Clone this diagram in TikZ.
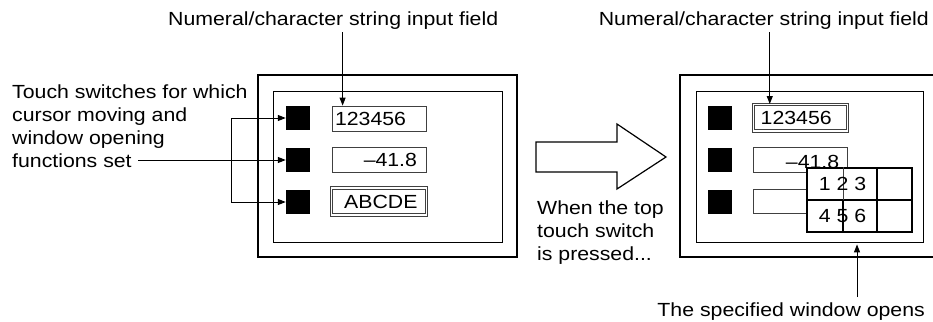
\documentclass[tikz,border=0pt]{standalone}
\usepackage{fontspec}
\setmainfont{Liberation Sans}[FakeStretch=1.12]
\usetikzlibrary{arrows.meta,calc}
\definecolor{edgegray}{HTML}{404040}

\begin{document}
\begin{tikzpicture}[x=1pt,y=-1pt,
  every node/.style={font=\fontsize{19}{22.7}\selectfont},
  frame/.style={draw,line width=2pt,inner sep=0pt,minimum height=182pt},
  panel/.style={draw,line width=0.8pt,inner sep=0pt,minimum width=229pt,minimum height=151pt},
  switch/.style={fill=black,inner sep=0pt,minimum size=24pt},
  field/.style={draw=edgegray,line width=0.8pt,minimum height=25pt,inner ysep=0pt},
  dfield/.style={field,double=white,double distance=1.4pt,line width=0.9pt},
  label/.style={inner sep=2pt,align=left},
  pointer/.style={line width=1pt,-{Triangle[length=8pt,width=6pt]}}]
  \clip (0,0) rectangle (933,321);

  % screen before
  \node[frame,minimum width=259pt] (outL) at (387.5,166) {};
  \node[panel] (inL) at (387.5,166.5) {};
  \foreach \i/\y in {1/118,2/160,3/202}
    \node[switch] (swL\i) at (298,\y) {};
  \node[field,text width=88pt,inner xsep=3pt,align=left] (fL1) at (379,118.5) {123456};
  \node[field,text width=76pt,inner xsep=9pt,align=right] (fL2) at (379,160) {–41.8};
  \node[dfield,text width=77pt,inner xsep=9pt,align=right,minimum height=27pt] (fL3) at (379,201.5) {ABCDE};

  % screen after
  \node[frame,minimum width=266pt] (outR) at (813,166) {};
  \node[panel,minimum width=227pt] (inR) at (809.5,166.5) {};
  \foreach \i/\y in {1/118,2/160,3/202}
    \node[switch] (swR\i) at (720,\y) {};
  \node[dfield,text width=80pt,inner xsep=7pt,align=left,minimum height=26.5pt] (fR1) at (800.7,117.7) {123456};
  \node[field,minimum width=94pt] (fR2) at (800,160) {};
  \node[field,minimum width=94pt,minimum height=24pt] (fR3) at (800,201) {};
  % window
  \node[draw,fill=white,line width=1.8pt,minimum width=105pt,minimum height=64pt,inner sep=0pt] (win) at (859.5,200) {};
  \draw[line width=1.8pt] (win.west) -- (win.east);
  \draw[line width=1.8pt] ([xshift=17.5pt]win.north) -- ([xshift=17.5pt]win.south);
  \draw[edgegray,line width=0.8pt] ([xshift=-16.5pt]win.north) -- ([xshift=-16.5pt]win.center);
  \draw[line width=1.8pt] ([xshift=-16.5pt]win.center) -- ([xshift=-16.5pt]win.south);
  \node (keys1) at (842.5,184) {1 2 3};
  \node (keys2) at (842.5,216) {4 5 6};
  \node[anchor=base east,inner sep=0pt] (fR2txt) at ([xshift=-8pt,yshift=4pt]fR2.south east) {–41.8};

  % labels
  \node[label,anchor=base west] (topL) at (166,26) {Numeral/character string input field};
  \node[label,anchor=base east] (topR) at (931,26) {Numeral/character string input field};
  \draw[pointer] ([xshift=11pt]fL1.north west |- topL.south) -- ([xshift=11pt]fL1.north west);
  \draw[pointer] ([xshift=16.5pt]fR1.north west |- topR.south) -- ([xshift=16.5pt]fR1.north west);

  \node[label,anchor=north west] (swtxt) at (10,83) {Touch switches for which\\cursor moving and\\window opening\\functions set};
  \coordinate (swtxtend) at (138,160);
  \draw[pointer] (swtxtend) -- (swL2.west);
  \draw[line width=1pt,{Triangle[length=8pt,width=6pt]}-{Triangle[length=8pt,width=6pt]}]
    (swL1.west) -- ++(-54,0) |- (swL3.west);

  % big arrow
  \draw[line width=1.2pt] (536,142) -- (617,142) -- (617,124) -- (666,157)
    -- (617,189) -- (617,172) -- (536,172) -- cycle;
  \node[label,anchor=north west] (presstxt) at (535,199) {When the top\\touch switch\\is pressed...};

  \node[label,anchor=base east] (opentxt) at (927,316) {The specified window opens};
  \draw[pointer] ([xshift=47.5pt,yshift=3pt]inR.south |- opentxt.north) -- ([xshift=47.5pt,yshift=-2pt]inR.south);
\end{tikzpicture}
\end{document}
